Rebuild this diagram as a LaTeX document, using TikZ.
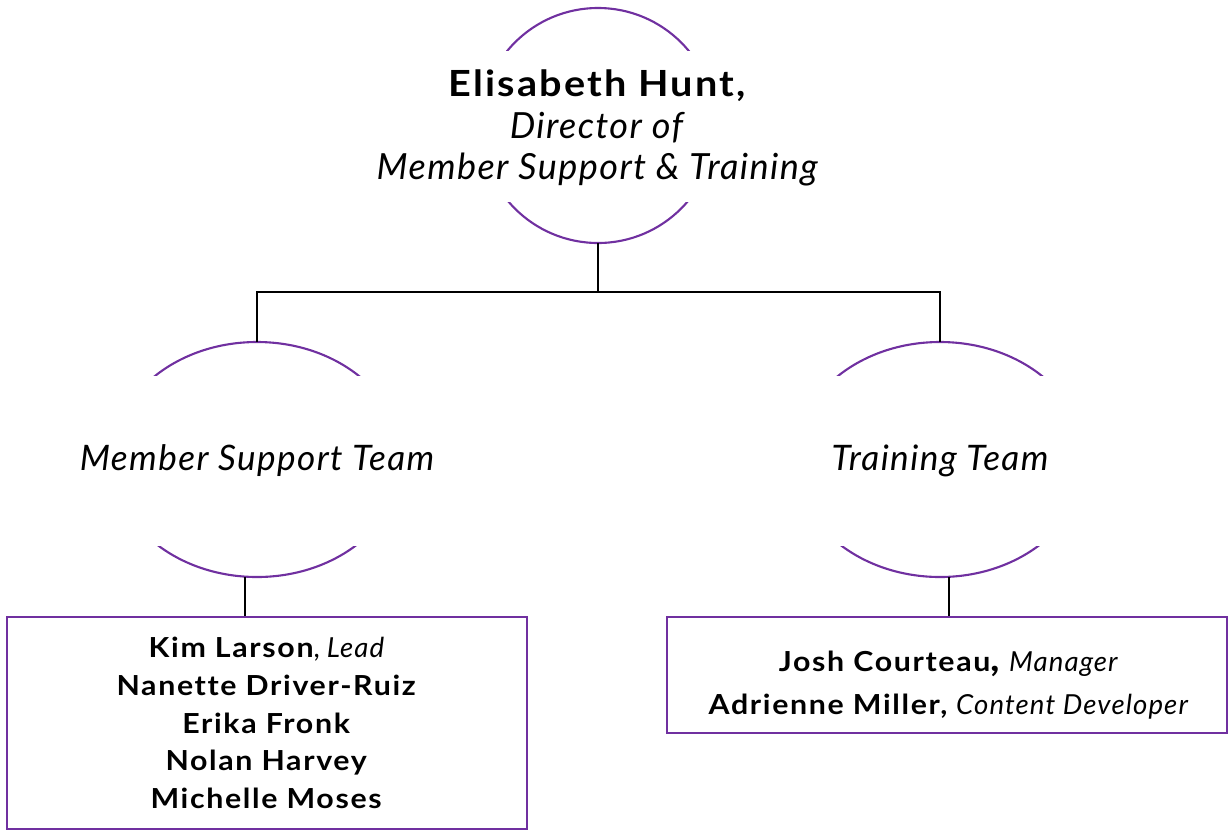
\documentclass[tikz,border=0pt]{standalone}
\usepackage{fontspec}
\setmainfont{Lato}[Ligatures=NoCommon,BoldFeatures={FakeStretch=1.1,LetterSpace=6},ItalicFeatures={LetterSpace=4}]
\usetikzlibrary{shapes.geometric}
\definecolor{orgpurple}{HTML}{7030A0}

\begin{document}
\begin{tikzpicture}[x=0.02cm,y=0.02cm,
  ring/.style={circle,minimum size=4.7cm,inner sep=0},
  teamring/.style={ellipse,minimum width=5.8cm,minimum height=4.7cm,inner sep=0},
  arcline/.style={orgpurple,line width=1.2pt},
  tree/.style={black,line width=1.1pt},
  twig/.style={black,line width=0.6pt},
  teambox/.style={draw=orgpurple,line width=1.1pt,inner sep=0},
  names/.style={align=center,font=\fontsize{15.7}{21.5}\selectfont}]
\useasboundingbox (0,0) rectangle (1229,-836);

\node[ring]     (dir) at (598,-125.5) {};
\node[teamring] (mst) at (257,-459.5) {};
\node[teamring] (trt) at (940,-459.5) {};
\node[align=center,font=\fontsize{20.5}{23.5}\selectfont] (dirtext) at (598,-128)
  {\textbf{Elisabeth Hunt,}\\ \textit{Director of}\\ \textit{Member Support \& Training}};
\node[font=\fontsize{20}{24}\selectfont\itshape] (msttext) at (257,-461) {Member Support Team};
\node[font=\fontsize{20}{24}\selectfont\itshape] (trttext) at (940,-461) {Training Team};

\node[teambox,minimum width=10.4cm,minimum height=4.24cm] (mstbox) at (267,-723) {};
\node[teambox,minimum width=11.2cm,minimum height=2.32cm] (trtbox) at (947,-675) {};
\node[names] (mstnames) at (mstbox.center)
  {\textbf{Kim Larson}, \textit{Lead}\\ \textbf{Nanette Driver-Ruiz}\\ \textbf{Erika Fronk}\\
   \textbf{Nolan Harvey}\\ \textbf{Michelle Moses}};
\node[names,font=\fontsize{15.7}{24.4}\selectfont] (trtnames) at (949,-685)
  {\textbf{Josh Courteau{\fontsize{21}{24}\selectfont,}}\ \textit{Manager}\\ \textbf{Adrienne Miller,} \textit{Content Developer}};

% purple arcs
\begin{scope}
  \clip (450,0) rectangle (750,-50);
  \draw[arcline] (dir.center) circle[radius=117.5];
\end{scope}
\begin{scope}
  \clip (450,-202) rectangle (750,-260);
  \draw[arcline] (dir.center) circle[radius=117.5];
\end{scope}
\begin{scope}
  \clip (100,-330) rectangle (420,-375);
  \draw[arcline] (mst.center) ellipse[x radius=145,y radius=117.5];
\end{scope}
\begin{scope}
  \clip (100,-546) rectangle (420,-590);
  \draw[arcline] (mst.center) ellipse[x radius=145,y radius=117.5];
\end{scope}
\begin{scope}
  \clip (780,-330) rectangle (1100,-375);
  \draw[arcline] (trt.center) ellipse[x radius=145,y radius=117.5];
\end{scope}
\begin{scope}
  \clip (780,-546) rectangle (1100,-590);
  \draw[arcline] (trt.center) ellipse[x radius=145,y radius=117.5];
\end{scope}

% connectors
\coordinate (fork) at (598,-292);
\draw[tree] (dir.south) -- (fork);
\draw[tree] (fork) -| (mst.north);
\draw[tree] (fork) -| (trt.north);
\draw[twig] ([xshift=-0.24cm]mst.south) -- ([xshift=-0.24cm]mst.south |- mstbox.north);
\draw[twig] ([xshift=0.18cm]trt.south) -- ([xshift=0.18cm]trt.south |- trtbox.north);

\end{tikzpicture}
\end{document}
